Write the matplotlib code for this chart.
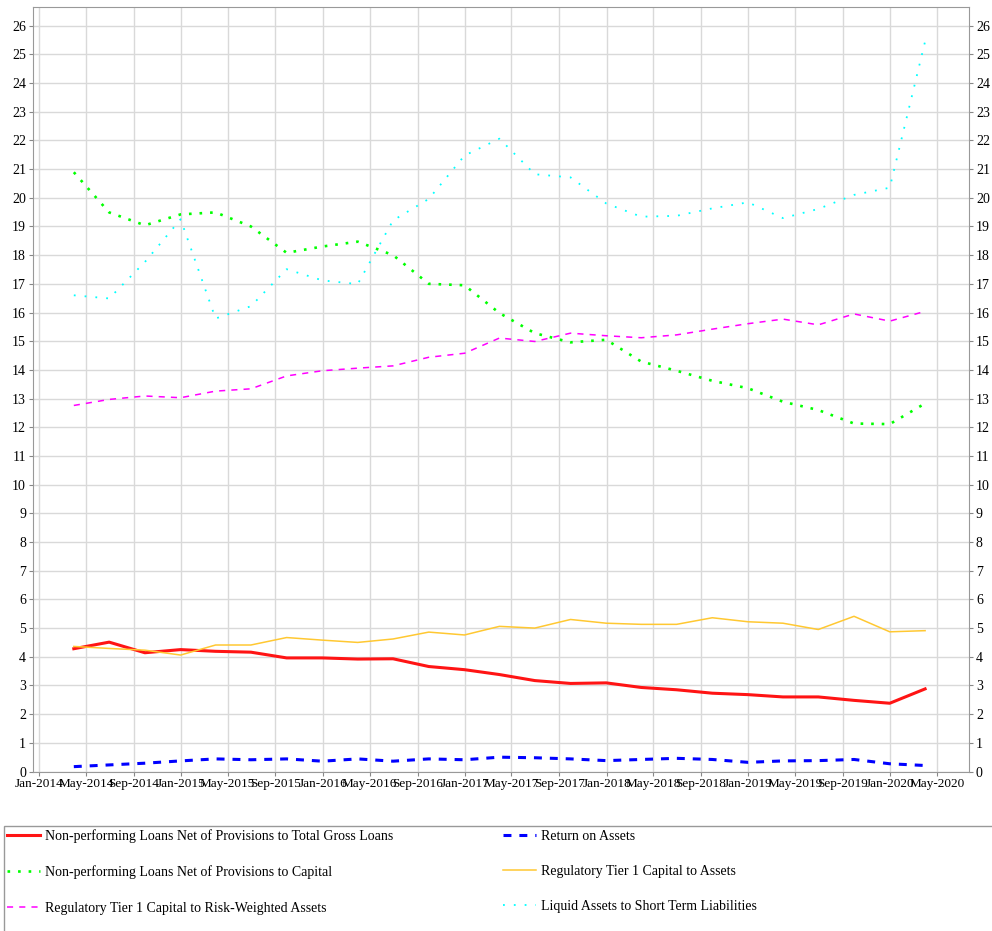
import pandas as pd
import matplotlib
matplotlib.use("Agg")
import matplotlib.pyplot as plt
import matplotlib.dates as mdates
from matplotlib.patches import Rectangle

plt.rcParams["font.family"] = ["Liberation Serif", "DejaVu Serif"]

# quarter-end dates
dates = pd.to_datetime([
    "2014-03-31", "2014-06-30", "2014-09-30", "2014-12-31",
    "2015-03-31", "2015-06-30", "2015-09-30", "2015-12-31",
    "2016-03-31", "2016-06-30", "2016-09-30", "2016-12-31",
    "2017-03-31", "2017-06-30", "2017-09-30", "2017-12-31",
    "2018-03-31", "2018-06-30", "2018-09-30", "2018-12-31",
    "2019-03-31", "2019-06-30", "2019-09-30", "2019-12-31",
    "2020-03-31",
])

npl_to_loans = [4.28, 4.51, 4.14, 4.25, 4.19, 4.16, 3.96, 3.96, 3.92, 3.93, 3.66, 3.55, 3.38,
                3.17, 3.07, 3.09, 2.93, 2.85, 2.73, 2.68, 2.60, 2.60, 2.48, 2.38, 2.88]
roa = [0.17, 0.23, 0.29, 0.37, 0.44, 0.41, 0.44, 0.36, 0.44, 0.36, 0.44, 0.41, 0.50,
       0.48, 0.44, 0.38, 0.42, 0.46, 0.42, 0.32, 0.37, 0.38, 0.42, 0.27, 0.21]
npl_to_capital = [20.89, 19.49, 19.04, 19.42, 19.49, 19.00, 18.08, 18.30, 18.47, 18.00, 17.00, 16.95, 15.98,
                  15.28, 14.96, 15.05, 14.29, 13.97, 13.62, 13.36, 12.89, 12.60, 12.13, 12.11, 12.83]
tier1_to_assets = [4.36, 4.29, 4.23, 4.06, 4.41, 4.41, 4.67, 4.58, 4.50, 4.62, 4.86, 4.76, 5.06,
                   5.00, 5.30, 5.17, 5.13, 5.13, 5.36, 5.22, 5.17, 4.95, 5.41, 4.87, 4.91]
tier1_to_rwa = [12.76, 12.97, 13.09, 13.03, 13.26, 13.34, 13.79, 13.97, 14.06, 14.14, 14.44, 14.58, 15.11,
                14.99, 15.28, 15.19, 15.12, 15.22, 15.42, 15.61, 15.77, 15.57, 15.95, 15.70, 16.04]
liquid_to_stl = [16.60, 16.49, 17.76, 19.25, 15.79, 16.22, 17.51, 17.12, 16.99, 19.21, 19.96, 21.47, 22.06,
                 20.82, 20.71, 19.80, 19.34, 19.37, 19.63, 19.84, 19.29, 19.61, 20.10, 20.35, 25.45]

fig = plt.figure(figsize=(9.92, 9.31), dpi=100)
ax = fig.add_axes([0.0333, 0.1713, 0.9435, 0.8212])

l1, = ax.plot(dates, npl_to_loans, color="#ff1414", lw=2.2, solid_joinstyle="round")
l2, = ax.plot(dates, roa, color="#0000ff", lw=2.2, linestyle=(0, (2.6, 2.6)))
l3, = ax.plot(dates, npl_to_capital, color="#00ff00", lw=1.9, linestyle=(0, (1, 3)))
l4, = ax.plot(dates, tier1_to_assets, color="#ffc832", lw=1.1)
l5, = ax.plot(dates, tier1_to_rwa, color="#ff00ff", lw=1.1, linestyle=(0, (4, 4)))
l6, = ax.plot(dates, liquid_to_stl, color="#00ffff", lw=1.3, linestyle=(0, (1, 5)))

ax.set_xlim(pd.Timestamp("2013-12-16"), pd.Timestamp("2020-07-22"))
ax.set_ylim(0, 26.65)
ax.set_yticks(range(0, 27))
ax.xaxis.set_major_locator(mdates.MonthLocator(bymonth=[1, 5, 9]))
ax.xaxis.set_major_formatter(mdates.DateFormatter("%b-%Y"))
ax.tick_params(axis="both", labelsize=10, length=3, color="#888888", pad=2)
ax.tick_params(axis="x", labelsize=9.5)
ax.tick_params(axis="y", left=True, right=True, labelleft=True, labelright=True)
ax.grid(True, color="#d9d9d9", lw=1)
for s in ax.spines.values():
    s.set_color("#999999")

# legend frame
fig.patches.append(Rectangle((0.004, -0.05), 1.0, 0.163, transform=fig.transFigure,
                             fill=False, edgecolor="#999999", lw=1))
kw = dict(loc="upper left", frameon=False, fontsize=10, handlelength=2.4,
          handletextpad=0.35, labelspacing=1.6, borderaxespad=0, borderpad=0)
fig.legend([l1, l3, l5], ["Non-performing Loans Net of Provisions to Total Gross Loans",
                          "Non-performing Loans Net of Provisions to Capital",
                          "Regulatory Tier 1 Capital to Risk-Weighted Assets"],
           bbox_to_anchor=(0.007, 0.109), **kw)
fig.legend([l2, l4, l6], ["Return on Assets",
                          "Regulatory Tier 1 Capital to Assets",
                          "Liquid Assets to Short Term Liabilities"],
           bbox_to_anchor=(0.507, 0.109), **kw)

fig.savefig("out.png", dpi=100)
